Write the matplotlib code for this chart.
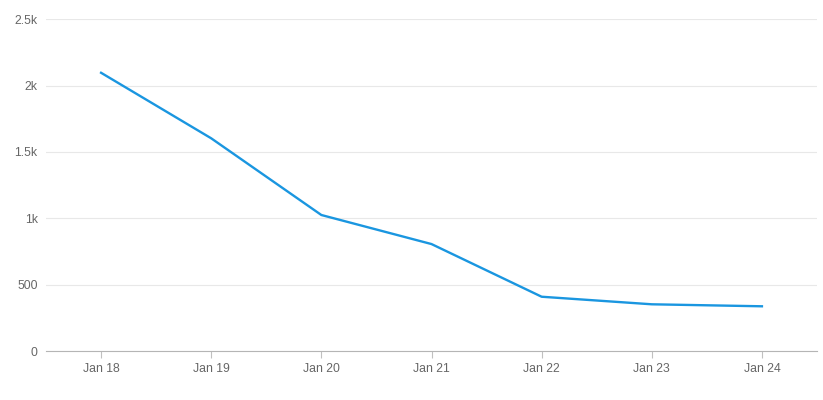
import matplotlib.pyplot as plt

plt.rcParams["font.family"] = ["Liberation Sans", "DejaVu Sans"]

days = ["Jan 18", "Jan 19", "Jan 20", "Jan 21", "Jan 22", "Jan 23", "Jan 24"]
counts = [2097, 1603, 1025, 806, 409, 352, 337]
y_ticks = [0, 500, 1000, 1500, 2000, 2500]
y_labels = ["0", "500", "1k", "1.5k", "2k", "2.5k"]

fig = plt.figure(figsize=(8.23, 4.0), dpi=100)
ax = fig.add_axes([46 / 823, 49 / 400, 771 / 823, 331.7 / 400])

x = list(range(len(days)))
ax.plot(x, counts, color="#1a96e0", lw=1.7, solid_joinstyle="round")

ax.set_xlim(-0.5, len(days) - 0.5)
ax.set_ylim(0, 2500)
ax.set_xticks(x)
ax.set_xticklabels(days)
ax.set_yticks(y_ticks)
ax.set_yticklabels(y_labels)

ax.grid(axis="y", color="#e8e8e8", lw=0.8)
ax.set_axisbelow(True)
for side in ("top", "right", "left"):
    ax.spines[side].set_visible(False)
ax.spines["bottom"].set_color("#b5b5b5")
ax.tick_params(axis="x", colors="#c0c0c0", length=5, labelcolor="#666666",
               labelsize=8.8, pad=4)
ax.tick_params(axis="y", length=0, labelcolor="#666666", labelsize=8.8, pad=6)

fig.savefig("out.png", dpi=100)
